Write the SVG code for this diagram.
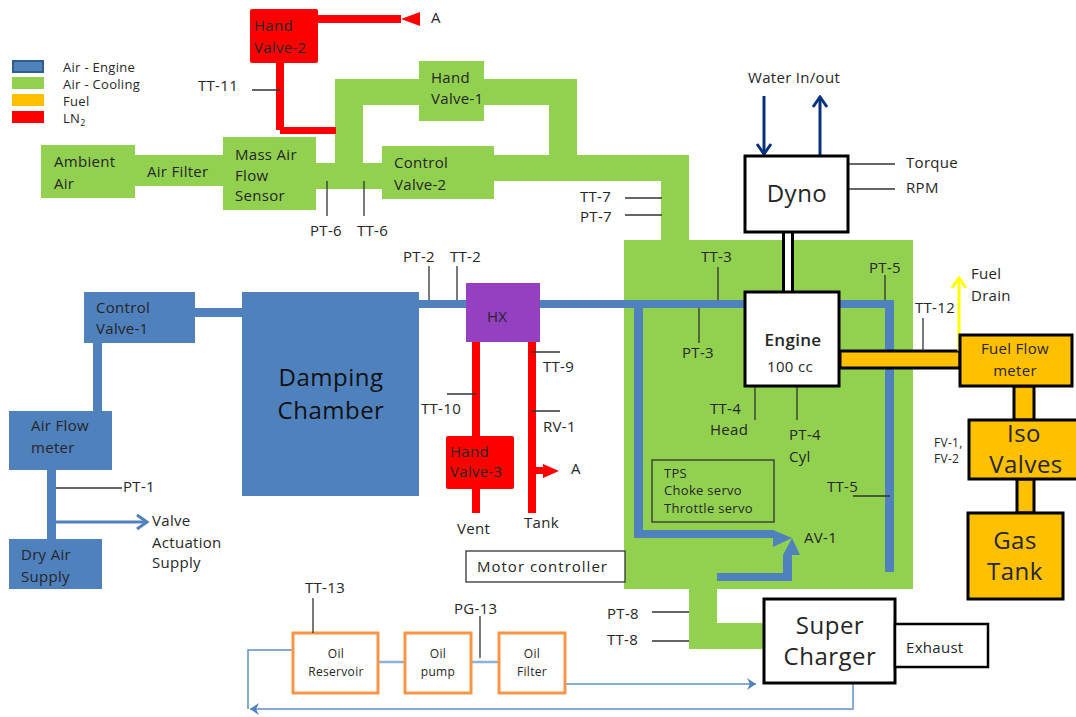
<svg xmlns="http://www.w3.org/2000/svg" width="1076" height="717" viewBox="0 0 1076 717">
<defs>
<marker id="ch-blue" markerUnits="userSpaceOnUse" markerWidth="14" markerHeight="16" refX="12" refY="8" orient="auto"><path d="M2 1L12 8L2 15" fill="none" stroke="#4f81bd" stroke-width="3"/></marker>
<marker id="ch-thin" markerUnits="userSpaceOnUse" markerWidth="14" markerHeight="14" refX="12" refY="7" orient="auto"><path d="M3 1L12 7L3 13L6 7Z" fill="#4f81bd"/></marker>
<marker id="ch-navy" markerUnits="userSpaceOnUse" markerWidth="14" markerHeight="18" refX="12" refY="9" orient="auto"><path d="M2 2L12 9L2 16" fill="none" stroke="#0a2f7d" stroke-width="3"/></marker>
<marker id="ch-yellow" markerUnits="userSpaceOnUse" markerWidth="14" markerHeight="18" refX="12" refY="9" orient="auto"><path d="M2 2L12 9L2 16" fill="none" stroke="#ffff00" stroke-width="3"/></marker>
</defs>
<style>
text{font-family:"Open Sans","Liberation Sans",sans-serif;font-size:15px;letter-spacing:.3px;fill:#262626}
.s{font-size:13px}
.t{font-size:12px}
.m{font-size:15px}
.l{font-size:24px;letter-spacing:.5px}
.c{text-anchor:middle}
.g{fill:#92d050}
.b{fill:#4f81bd}
.r{fill:#ff0000}
.o{fill:#ffc000}
.ok{fill:#ffc000;stroke:#000;stroke-width:3}
.w{fill:#fff;stroke:#000;stroke-width:3}
.oil{fill:#fff;stroke:#f79646;stroke-width:3}
.tag{stroke:#333;stroke-width:1.3;fill:none}
.thin{stroke:#5f8fc8;stroke-width:1.5;fill:none}
.oillink{stroke:#8fb0d8;stroke-width:2.5;fill:none}
</style>

<g id="legend">
<rect x="13" y="61" width="30" height="11" class="b" stroke="#2f5d92" stroke-width="2"/>
<rect x="12" y="77" width="32" height="12" class="g"/>
<rect x="12" y="94" width="32" height="12" class="o"/>
<rect x="12" y="111" width="32" height="12" class="r"/>
<text x="63" y="72" class="s">Air - Engine</text>
<text x="63" y="89" class="s">Air - Cooling</text>
<text x="63" y="106" class="s">Fuel</text>
<text x="63" y="123" class="s">LN<tspan font-size="9" dy="3">2</tspan></text>
</g>

<g id="connectors">
<path class="g" d="M135 155H223V186H135ZM316 163H335V79H577V155H689V240H661V181H494V155H549V105H363V163H382V189H316Z"/>
<rect class="g" x="624" y="240" width="289" height="349"/>
<path class="g" d="M689 589H717V623H764V649H689Z"/>
<rect class="b" x="418" y="300" width="48" height="8"/>
<rect class="b" x="540" y="300" width="205" height="8"/>
<path class="b" d="M634 308H643V530H773L792 538L773 547V538H634Z"/>
<path class="b" d="M717 573H783V555L792 538L800 555H792V581H717Z"/>
<path class="b" d="M839 300H894V351H885V308H839ZM885 368H894V572H885Z"/>
<rect class="b" x="195" y="308" width="47" height="9"/>
<rect class="b" x="93" y="343" width="9" height="68"/>
<rect class="b" x="47" y="470" width="9" height="69"/>
<path d="M56 522H147" fill="none" stroke="#4f81bd" stroke-width="3" marker-end="url(#ch-blue)"/>
<rect class="r" x="276" y="63" width="8" height="67"/>
<rect class="r" x="280" y="127" width="56" height="7"/>
<rect class="r" x="318" y="15" width="83" height="8"/>
<path class="r" d="M401 19L420 12V26Z"/>
<rect class="r" x="472" y="342" width="8" height="171"/>
<rect class="r" x="528" y="342" width="8" height="171"/>
<path class="r" d="M536 467H543V464L559 471L543 478V474H536Z"/>
<rect x="782" y="232" width="12" height="60" fill="#000"/>
<rect x="785" y="232" width="6" height="60" fill="#fff"/>
<path d="M840 351H960V368H840Z" class="ok" stroke-width="2"/>
<rect x="1014" y="386" width="20" height="34" class="ok" stroke-width="2"/>
<rect x="1017" y="479" width="17" height="34" class="ok" stroke-width="2"/>
<path d="M959 351V278" stroke="#ffff00" stroke-width="3" fill="none" marker-end="url(#ch-yellow)"/>
<path d="M764 154V96" transform="rotate(180 764 125)" stroke="#0a2f7d" stroke-width="3" fill="none" marker-end="url(#ch-navy)"/>
<path d="M820 155V97" stroke="#0a2f7d" stroke-width="3" fill="none" marker-end="url(#ch-navy)"/>
<path class="oillink" d="M378 662H405M471 662H498"/>
<path class="thin" d="M565 684H756" marker-end="url(#ch-thin)"/>
<path class="thin" d="M853 684V709H250" marker-end="url(#ch-thin)"/>
<path class="thin" d="M293 650H248V709"/>
</g>

<g id="node-ambient-air"><rect class="g" x="41" y="145" width="94" height="53"/><text x="54" y="167">Ambient</text><text x="54" y="189">Air</text></g>
<g id="node-air-filter"><text x="147" y="177">Air Filter</text></g>
<g id="node-mass-air-flow"><rect class="g" x="223" y="137" width="93" height="73"/><text x="235" y="160">Mass Air</text><text x="235" y="181">Flow</text><text x="235" y="201">Sensor</text></g>
<g id="node-hand-valve-1"><rect class="g" x="419" y="61" width="65" height="60"/><text x="431" y="83">Hand</text><text x="431" y="104">Valve-1</text></g>
<g id="node-control-valve-2"><rect class="g" x="382" y="146" width="112" height="53"/><text x="394" y="168">Control</text><text x="394" y="190">Valve-2</text></g>
<g id="node-hand-valve-2"><rect class="r" x="250" y="9" width="68" height="54" rx="2"/><text x="254" y="31">Hand</text><text x="254" y="53">Valve-2</text></g>
<g id="node-control-valve-1"><rect class="b" x="84" y="292" width="111" height="51"/><text x="96" y="313">Control</text><text x="96" y="334">Valve-1</text></g>
<g id="node-air-flow-meter"><rect class="b" x="9" y="411" width="103" height="59"/><text x="31" y="431">Air Flow</text><text x="31" y="453">meter</text></g>
<g id="node-dry-air-supply"><rect class="b" x="9" y="539" width="93" height="50"/><text x="21" y="560">Dry Air</text><text x="21" y="582">Supply</text></g>
<g id="node-damping-chamber"><rect class="b" x="242" y="292" width="177" height="204"/><text x="331" y="386" class="l c" style="fill:#111">Damping</text><text x="331" y="419" class="l c" style="fill:#111">Chamber</text></g>
<g id="node-hx"><rect x="466" y="283" width="74" height="59" fill="#953fc1"/><text x="487" y="322">HX</text></g>
<g id="node-hand-valve-3"><rect class="r" x="446" y="436" width="68" height="53" rx="2"/><text x="450" y="457">Hand</text><text x="450" y="477">Valve-3</text></g>
<g id="node-dyno"><rect class="w" x="745" y="156" width="103" height="76"/><text x="797" y="202" class="l c">Dyno</text></g>
<g id="node-engine"><rect class="w" x="745" y="292" width="94" height="94"/><text x="793" y="346" class="c" style="font-size:17px;font-weight:600">Engine</text><text x="790" y="372" class="m c">100 cc</text></g>
<g id="node-tps"><rect x="652" y="460" width="122" height="62" fill="none" stroke="#333" stroke-width="1.3"/><text x="664" y="478" class="s">TPS</text><text x="664" y="495" class="s">Choke servo</text><text x="664" y="513" class="s">Throttle servo</text></g>
<g id="node-motor-controller"><rect x="466" y="551" width="159" height="31" fill="#fff" stroke="#333" stroke-width="1.3"/><text x="477" y="572" class="m" style="letter-spacing:1px">Motor controller</text></g>
<g id="node-fuel-flow-meter"><rect class="ok" x="960" y="335" width="112" height="51"/><text x="1015" y="354" class="m c">Fuel Flow</text><text x="1015" y="376" class="m c">meter</text></g>
<g id="node-iso-valves"><rect class="ok" x="969" y="420" width="112" height="59"/><text x="1024" y="442" class="l c">Iso</text><text x="1026" y="473" class="l c">Valves</text></g>
<g id="node-gas-tank"><rect class="ok" x="968" y="513" width="95" height="86"/><text x="1015" y="549" class="l c">Gas</text><text x="1015" y="580" class="l c">Tank</text></g>
<g id="node-super-charger"><rect class="w" x="764" y="599" width="131" height="84"/><text x="830" y="634" class="l c">Super</text><text x="830" y="665" class="l c">Charger</text></g>
<g id="node-exhaust"><rect x="895" y="624" width="93" height="43" fill="#fff" stroke="#000" stroke-width="2.5"/><text x="906" y="653" class="m">Exhaust</text></g>
<g id="node-oil-reservoir"><rect class="oil" x="293" y="633" width="85" height="60"/><text x="336" y="658" class="t c">Oil</text><text x="336" y="676" class="t c">Reservoir</text></g>
<g id="node-oil-pump"><rect class="oil" x="405" y="633" width="66" height="60"/><text x="438" y="658" class="t c">Oil</text><text x="438" y="676" class="t c">pump</text></g>
<g id="node-oil-filter"><rect class="oil" x="499" y="633" width="66" height="60"/><text x="532" y="658" class="t c">Oil</text><text x="532" y="676" class="t c">Filter</text></g>

<g id="instrument-tags">
<path class="tag" d="M252 90H280M327 181V216M364 181V216M625 198H662M625 215H662M849 164H895M849 189H895M718 267V300M885 275V300M699 308V343M755 387V420M797 387V420M853 496H890M923 318V351M429 266V300M457 266V300M532 352H560M532 411H560M447 394H476M56 488H122M652 612H689M652 641H689M313 598V633M480 616V658"/>
<text x="198" y="91">TT-11</text>
<text x="431" y="23">A</text>
<text x="310" y="236">PT-6</text>
<text x="357" y="236">TT-6</text>
<text x="580" y="202">TT-7</text>
<text x="580" y="222">PT-7</text>
<text x="748" y="83" class="m">Water In/out</text>
<text x="906" y="168" class="m">Torque</text>
<text x="906" y="193" class="m">RPM</text>
<text x="701" y="262">TT-3</text>
<text x="869" y="273">PT-5</text>
<text x="682" y="358">PT-3</text>
<text x="710" y="414">TT-4</text>
<text x="710" y="435">Head</text>
<text x="789" y="440">PT-4</text>
<text x="789" y="462">Cyl</text>
<text x="804" y="543">AV-1</text>
<text x="827" y="492">TT-5</text>
<text x="915" y="313">TT-12</text>
<text x="971" y="279" class="m">Fuel</text>
<text x="971" y="301" class="m">Drain</text>
<text x="934" y="447" class="t">FV-1,</text>
<text x="934" y="463" class="t">FV-2</text>
<text x="403" y="262">PT-2</text>
<text x="450" y="262">TT-2</text>
<text x="543" y="372">TT-9</text>
<text x="543" y="432">RV-1</text>
<text x="421" y="414">TT-10</text>
<text x="571" y="474">A</text>
<text x="457" y="534">Vent</text>
<text x="524" y="528">Tank</text>
<text x="123" y="492">PT-1</text>
<text x="152" y="526">Valve</text>
<text x="152" y="548">Actuation</text>
<text x="152" y="568">Supply</text>
<text x="305" y="593">TT-13</text>
<text x="454" y="614">PG-13</text>
<text x="607" y="619">PT-8</text>
<text x="607" y="645">TT-8</text>
</g>
</svg>
